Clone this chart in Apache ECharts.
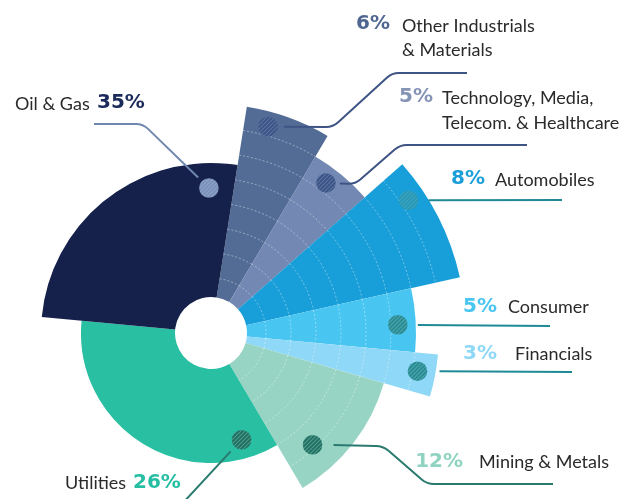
<!DOCTYPE html>
<html>
<head>
<meta charset="utf-8">
<style>
  html, body { margin: 0; padding: 0; background: #fff; }
  #main { width: 635px; height: 499px; }
</style>
<script src="https://cdn.jsdelivr.net/npm/echarts@6/dist/echarts.min.js"></script>
</head>
<body>
<div id="main"></div>
<script>
// sectors in clockwise order, starting at the top
const sectors = ['Other Industrials\n& Materials', 'Technology, Media,\nTelecom. & Healthcare', 'Automobiles', 'Consumer', 'Financials', 'Mining & Metals', 'Utilities', 'Oil & Gas'];
// labelled shares (%)
const shares = [6, 5, 8, 5, 3, 12, 26, 35];
// angular width of each slice as drawn (% of the circle) - the picture draws utilities wider than oil & gas
const span = [6, 5, 8, 5, 3, 12, 35, 26];
// radial length of each slice (radius axis units)
const reach = [229, 205, 255, 205, 228, 180, 130, 170];

// styles
const fills = ['#536c95', '#7388b2', '#189ed8', '#48c5f1', '#8fd8f7', '#97d4c4', '#28bfa2', '#15214b'];
const pctColors = ['#4f6690', '#8594b6', '#1c9fd9', '#48c5f1', '#8fd8f7', '#8fd3c0', '#26bea3', '#1b2a5a'];
const lineColors = ['#3d5485', '#3d5485', '#1f8a96', '#1f8a96', '#1f8a96', '#2a7a70', '#2a7a70', '#7088b0'];
const dotColors = [['#3b5384', '#5b73a2'], ['#3b5384', '#5b73a2'], ['#2a96b4', '#3aa8c4'], ['#2a8a92', '#4aa6ad'],
  ['#2a8a92', '#4aa6ad'], ['#226e62', '#4f9c8e'], ['#1f6e60', '#4c9a8c'], ['#7a90b8', '#90a4c8']];
const ringed = [true, true, true, true, true, true, false, false];

// callout layout: marker [fraction of slice angle, radius], gap before leader, leader points, text anchors
const callouts = [
  { mark: [0.3, 214], gap: 16, path: [[333, 127], [392, 73], [467, 73]], pct: [390, 24, 'right'], name: [402, 38, 'left'] },
  { mark: [0.38, 189], gap: 14, path: [[355, 184], [400, 145], [527, 145]], pct: [433, 97, 'right'], name: [442, 110.5, 'left'] },
  { mark: [0.26, 238], gap: 20, path: [[562, 200]], pct: [485, 179, 'right'], name: [495, 180, 'left'] },
  { mark: [0.56, 187], gap: 20, path: [[550, 326]], pct: [497, 307, 'right'], name: [508, 307, 'left'] },
  { mark: [0.47, 210], gap: 22, path: [[572, 372]], pct: [497, 354, 'right'], name: [515, 354, 'left'] },
  { mark: [0.73, 151], gap: 21, path: [[383, 446], [427, 484], [553, 484]], pct: [463, 462, 'right'], name: [479, 462, 'left'] },
  { mark: [0.116, 111], gap: 16, path: [[181, 505]], pct: [133, 483, 'left'], name: [65, 483, 'left'] },
  { mark: [0.895, 145], gap: 15, path: [[143, 124], [94, 124]], pct: [97, 103, 'left'], name: [15, 104, 'left'] }
];

const HOLE = 36;
const RING_STEP = 25;

// running start/end of each slice on the angle axis
let acc = 0;
const slices = span.map(function (s, i) {
  const row = [acc, acc + s, reach[i]];
  acc += s;
  return row;
});

function hatch(base, stripe) {
  const n = 4;
  const c = document.createElement('canvas');
  c.width = n; c.height = n;
  const g = c.getContext('2d');
  g.fillStyle = base;
  g.fillRect(0, 0, n, n);
  g.strokeStyle = stripe;
  g.lineWidth = 1.1;
  g.beginPath();
  g.moveTo(0, n); g.lineTo(n, 0);
  g.moveTo(-1, 1); g.lineTo(1, -1);
  g.moveTo(n - 1, n + 1); g.lineTo(n + 1, n - 1);
  g.stroke();
  return { image: c, repeat: 'repeat' };
}

// polyline with softened corners
function leaderPath(pts) {
  let d = 'M' + pts[0][0] + ',' + pts[0][1];
  for (let k = 1; k < pts.length; k++) {
    const p = pts[k];
    if (k < pts.length - 1) {
      const a = pts[k - 1], b = pts[k + 1];
      const la = Math.hypot(p[0] - a[0], p[1] - a[1]);
      const lb = Math.hypot(b[0] - p[0], b[1] - p[1]);
      const rr = Math.min(7, la / 2, lb / 2);
      const p1 = [p[0] - (p[0] - a[0]) / la * rr, p[1] - (p[1] - a[1]) / la * rr];
      const p2 = [p[0] + (b[0] - p[0]) / lb * rr, p[1] + (b[1] - p[1]) / lb * rr];
      d += 'L' + p1[0] + ',' + p1[1] + 'Q' + p[0] + ',' + p[1] + ' ' + p2[0] + ',' + p2[1];
    } else {
      d += 'L' + p[0] + ',' + p[1];
    }
  }
  return d;
}

function renderSlice(params, api) {
  const i = params.dataIndex;
  const a0 = api.value(0), a1 = api.value(1), r = api.value(2);
  const s = api.coord([r, a0]);
  const e = api.coord([r, a1]);
  const cx = params.coordSys.cx, cy = params.coordSys.cy;
  const r0 = api.coord([HOLE, a0])[2];
  const children = [{
    type: 'sector',
    shape: { cx: cx, cy: cy, r0: r0, r: s[2], startAngle: -s[3], endAngle: -e[3], clockwise: true },
    style: { fill: fills[i] }
  }];
  if (ringed[i]) {
    for (let k = HOLE + 19; k < r - 4; k += RING_STEP) {
      children.push({
        type: 'arc',
        shape: { cx: cx, cy: cy, r: api.coord([k, a0])[2], startAngle: -s[3], endAngle: -e[3], clockwise: true },
        style: { fill: 'none', stroke: 'rgba(255,255,255,0.5)', lineWidth: 0.8, lineDash: [2, 2] }
      });
    }
  }
  return { type: 'group', children: children };
}

function renderCallout(params, api) {
  const i = params.dataIndex;
  const c = callouts[i];
  const a0 = api.value(0), a1 = api.value(1);
  const m = api.coord([c.mark[1], a0 + c.mark[0] * (a1 - a0)]);
  const first = c.path[0];
  const len = Math.hypot(first[0] - m[0], first[1] - m[1]);
  const start = [m[0] + (first[0] - m[0]) / len * c.gap, m[1] + (first[1] - m[1]) / len * c.gap];
  const nameFont = '18px Lato';
  const pctFont = 'bold 20px "DejaVu Sans"';
  return {
    type: 'group',
    children: [
      {
        type: 'path',
        shape: { pathData: leaderPath([start].concat(c.path)) },
        style: { fill: 'none', stroke: lineColors[i], lineWidth: 2 }
      },
      {
        type: 'circle',
        shape: { cx: m[0], cy: m[1], r: 9.8 },
        style: { fill: hatch(dotColors[i][0], dotColors[i][1]) }
      },
      {
        type: 'text',
        x: c.pct[0], y: c.pct[1],
        style: { text: shares[i] + '%', fill: pctColors[i], font: pctFont, align: c.pct[2], verticalAlign: 'middle' }
      },
      {
        type: 'text',
        x: c.name[0], y: c.name[1],
        style: { text: sectors[i], fill: '#2b2a2a', font: nameFont, lineHeight: 24.5, align: c.name[2], verticalAlign: 'middle' }
      }
    ]
  };
}

const chart = echarts.init(document.getElementById('main'), null, { renderer: 'canvas' });
chart.setOption({
  animation: false,
  backgroundColor: '#ffffff',
  polar: { center: [211, 333], radius: [0, 260] },
  radiusAxis: { type: 'value', min: 0, max: 260, show: false },
  angleAxis: { type: 'value', min: 0, max: 100, startAngle: 81, clockwise: true, show: false },
  series: [
    { type: 'custom', coordinateSystem: 'polar', renderItem: renderSlice, data: slices, z: 1, silent: true },
    { type: 'custom', coordinateSystem: 'polar', renderItem: renderCallout, data: slices, z: 2, silent: true, clip: false }
  ]
});
</script>
</body>
</html>
